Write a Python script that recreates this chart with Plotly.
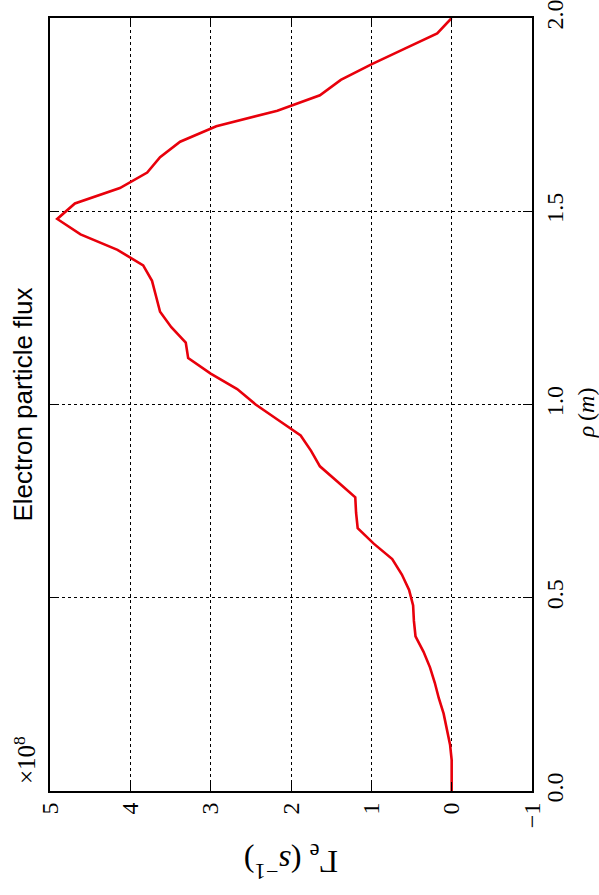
import plotly.graph_objects as go

# rho (m) grid and electron particle flux (units of 1e8 s^-1)
rho = [0.00, 0.04, 0.08, 0.12, 0.16, 0.20, 0.24, 0.28, 0.32, 0.36,
       0.40, 0.44, 0.48, 0.52, 0.56, 0.60, 0.64, 0.68, 0.72, 0.76,
       0.80, 0.84, 0.88, 0.92, 0.96, 1.00, 1.04, 1.08, 1.12, 1.16,
       1.20, 1.24, 1.28, 1.32, 1.36, 1.40, 1.44, 1.48, 1.52, 1.56,
       1.60, 1.64, 1.68, 1.72, 1.76, 1.80, 1.84, 1.88, 1.92, 1.96, 2.00]
gamma_e = [0.00, 0.00, 0.00, 0.02, 0.06, 0.10, 0.16, 0.21, 0.27, 0.35,
           0.45, 0.47, 0.48, 0.53, 0.62, 0.74, 0.97, 1.17, 1.19, 1.20,
           1.42, 1.64, 1.75, 1.88, 2.16, 2.44, 2.67, 3.00, 3.28, 3.31,
           3.49, 3.63, 3.68, 3.73, 3.84, 4.16, 4.62, 4.91, 4.69, 4.13,
           3.79, 3.63, 3.38, 2.93, 2.17, 1.64, 1.38, 1.00, 0.59, 0.18, 0.00]

gamma_ticks = [5, 4, 3, 2, 1, 0, -1]
gamma_ticktext = ["5", "4", "3", "2", "1", "0", "\u22121"]
rho_ticks = [0.0, 0.5, 1.0, 1.5, 2.0]
rho_ticktext = ["0.0", "0.5", "1.0", "1.5", "2.0"]

SERIF = "Liberation Serif, Times New Roman, serif"
SANS = "Liberation Sans, Arial, sans-serif"

fig = go.Figure()
fig.add_trace(go.Scatter(
    x=gamma_e, y=rho, mode="lines",
    line=dict(color="#e8000b", width=2.6),
    showlegend=False, hoverinfo="skip"))

axis_common = dict(
    showline=True, linecolor="black", linewidth=2, mirror="ticks",
    ticks="inside", ticklen=9, tickwidth=1.3, tickcolor="black",
    showgrid=True, gridcolor="black", gridwidth=1, griddash="dot",
    zeroline=False, tickangle=-90, automargin=False,
    ticklabeloverflow="allow",
    tickfont=dict(family=SERIF, size=24, color="black"),
)

fig.update_layout(
    width=599, height=895,
    margin=dict(l=50, r=67, t=18, b=104, pad=0, autoexpand=False),
    paper_bgcolor="white", plot_bgcolor="white",
    xaxis=dict(range=[5, -1], tickvals=gamma_ticks, ticktext=gamma_ticktext,
               side="bottom", **axis_common),
    yaxis=dict(range=[0, 2], tickvals=rho_ticks, ticktext=rho_ticktext,
               side="right", **axis_common),
    annotations=[
        dict(text="Electron particle flux", xref="paper", yref="paper",
             x=-0.058, y=0.5, xanchor="center", yanchor="middle",
             textangle=-90, showarrow=False,
             font=dict(family=SANS, size=26, color="black")),
        dict(text="\u00d710<sup>8</sup>", xref="paper", yref="paper",
             x=-0.052, y=0.04, xanchor="center", yanchor="middle",
             textangle=-90, showarrow=False,
             font=dict(family=SERIF, size=25, color="black")),
        dict(text="<i>\u03c1</i>\u2009(<i>m</i>)", xref="paper", yref="paper",
             x=1.112, y=0.49, xanchor="center", yanchor="middle",
             textangle=-90, showarrow=False,
             font=dict(family=SERIF, size=24, color="black")),
        dict(text="\u0393<sub>e</sub> (<i>s</i><sup>\u22121</sup>)", xref="paper", yref="paper",
             x=0.5, y=-0.092, xanchor="center", yanchor="middle",
             textangle=180, showarrow=False,
             font=dict(family=SERIF, size=32, color="black")),
    ],
)

# remove the default page margin so the figure fills the window exactly
fig.write_html("out.html",
               config={"displayModeBar": False},
               post_script="document.body.style.margin='0';document.body.style.overflow='hidden';")
